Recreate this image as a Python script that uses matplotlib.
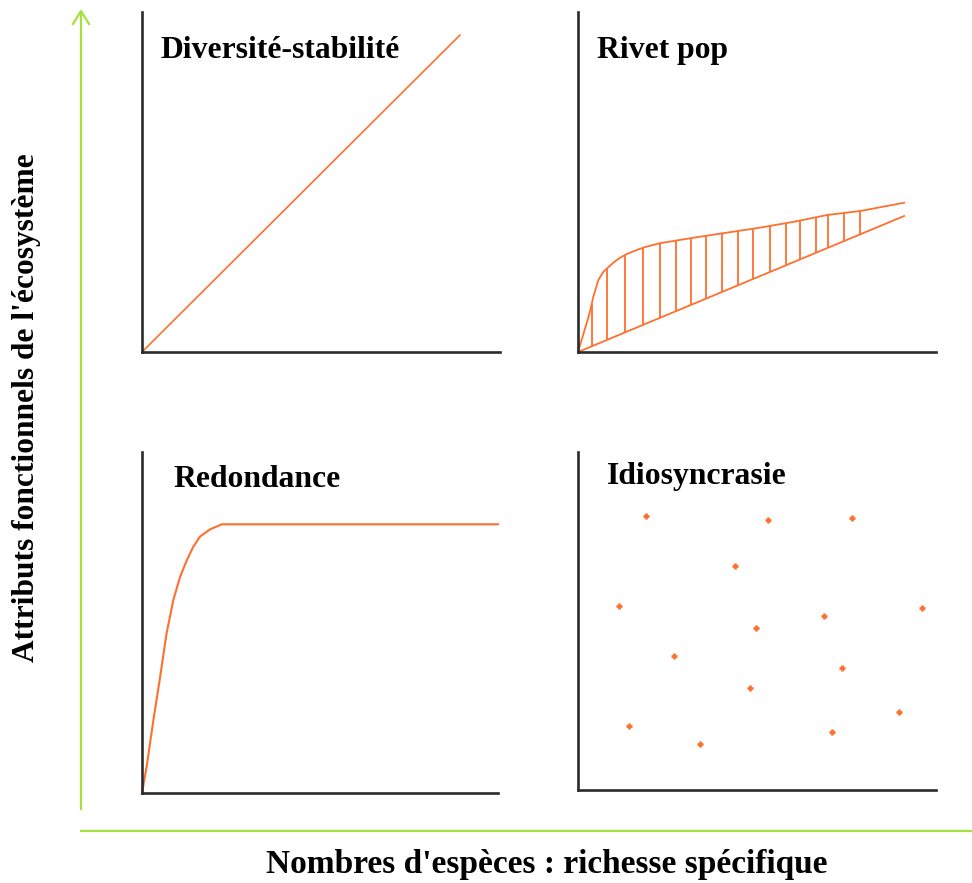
import matplotlib
matplotlib.use("Agg")
import matplotlib.pyplot as plt
import numpy as np

# ---------------- data ----------------
# Diversité-stabilité : linear
div_x = [0, 88.8]
div_y = [0, 93.2]

# Rivet pop : upper saturating curve and lower linear curve
rivet_up_x = [0, 1.0, 2.4, 3.35, 4.3, 5.7, 7.1, 9.9, 11.7, 13.6, 16.4, 19.2, 22.9,
              32.2, 41.6, 51.0, 60.3, 69.6, 79.0, 91.1]
rivet_up_y = [0, 3.5, 8.4, 11.9, 16.3, 21.2, 23.6, 26.3, 27.7, 28.8, 30.0, 31.0, 32.0,
              33.6, 35.1, 36.6, 38.3, 40.3, 41.5, 43.9]
rivet_low_x = [0, 91.1]
rivet_low_y = [0, 40.0]
rivet_hatch_x = [3.8, 8.0, 13.1, 18.2, 22.9, 27.4, 31.7, 35.7, 40.1, 44.6,
                 49.0, 53.6, 58.1, 62.0, 66.5, 69.9, 74.3, 78.8]

# Redondance : fast rise then plateau
red_x = [0, 1.3, 3.2, 5.1, 6.9, 8.8, 10.7, 12.6, 14.4, 16.3, 19.1, 22.4, 100]
red_y = [0, 7.7, 21.4, 34.1, 46.8, 56.6, 63.4, 68.3, 72.2, 75.2, 77.3, 78.8, 78.8]

# Idiosyncrasie : scattered points
idio_x = [18.9, 53.0, 76.5, 43.9, 11.5, 96.0, 68.6, 49.6, 26.7, 73.7, 48.0, 89.7, 14.3, 70.9, 34.0]
idio_y = [81.1, 79.8, 80.4, 66.2, 54.4, 53.8, 51.5, 47.9, 39.6, 36.1, 30.2, 23.1, 18.9, 17.2, 13.6]

titles = ["Diversité-stabilité", "Rivet pop", "Redondance", "Idiosyncrasie"]
xlabel = "Nombres d'espèces : richesse spécifique"
ylabel = "Attributs fonctionnels de l'écosystème"

# ---------------- style ----------------
W, H = 972, 883
ORANGE = "#ff6f2e"
GREEN = "#a6e040"
SPINE = "#2b2b2b"
FONT = ["Liberation Serif", "DejaVu Serif"]

fig = plt.figure(figsize=(W / 100, H / 100), dpi=100)
fig.patch.set_facecolor("white")


def px_axes(left, top, right, bottom):
    return fig.add_axes([left / W, 1 - bottom / H, (right - left) / W, (bottom - top) / H])


def style(ax):
    ax.set_xlim(0, 100)
    ax.set_ylim(0, 100)
    for s in ("top", "right"):
        ax.spines[s].set_visible(False)
    for s in ("left", "bottom"):
        ax.spines[s].set_color(SPINE)
        ax.spines[s].set_linewidth(1.9)
    ax.set_xticks([])
    ax.set_yticks([])
    ax.patch.set_alpha(0)


ax1 = px_axes(142, 12, 500, 352)
ax2 = px_axes(578, 12, 936, 352)
ax3 = px_axes(142, 452, 498, 793)
ax4 = px_axes(578, 452, 936, 790)
for a in (ax1, ax2, ax3, ax4):
    style(a)

ax1.plot(div_x, div_y, color=ORANGE, lw=1.2, clip_on=False)

ax2.plot(rivet_up_x, rivet_up_y, color=ORANGE, lw=1.3, clip_on=False)
ax2.plot(rivet_low_x, rivet_low_y, color=ORANGE, lw=1.3, clip_on=False)
hx = np.array(rivet_hatch_x)
ax2.vlines(hx, np.interp(hx, rivet_low_x, rivet_low_y), np.interp(hx, rivet_up_x, rivet_up_y),
           color=ORANGE, lw=1.3)

ax3.plot(red_x, red_y, color=ORANGE, lw=1.5, clip_on=False)

ax4.plot(idio_x, idio_y, linestyle="none", marker="+", markersize=5,
         color=ORANGE, markeredgewidth=2.0, clip_on=False)

# ---------------- overlay: arrows and texts ----------------
ov = fig.add_axes([0, 0, 1, 1])
ov.set_xlim(0, W)
ov.set_ylim(H, 0)
ov.axis("off")
ov.patch.set_alpha(0)

# vertical green arrow
ov.plot([81, 81], [810, 11], color=GREEN, lw=1.6, solid_capstyle="butt")
ov.plot([73, 81, 89], [24, 11, 24], color=GREEN, lw=1.6)
# horizontal green arrow
ov.plot([80, 972], [831, 831], color=GREEN, lw=1.6, solid_capstyle="butt")

tkw = dict(fontfamily=FONT, fontweight="bold", color="black")
ov.text(160, 58, titles[0], ha="left", va="baseline", fontsize=22.8, **tkw)
ov.text(597, 58, titles[1], ha="left", va="baseline", fontsize=22.8, **tkw)
ov.text(173, 487, titles[2], ha="left", va="baseline", fontsize=22.8, **tkw)
ov.text(607, 484, titles[3], ha="left", va="baseline", fontsize=22.8, **tkw)

ov.text(547, 873, xlabel, ha="center", va="baseline", fontsize=24, **tkw)
ov.text(27, 408, ylabel, ha="center", va="center", rotation=90, fontsize=22.6, **tkw)

fig.savefig("out.png", dpi=100, facecolor="white")
